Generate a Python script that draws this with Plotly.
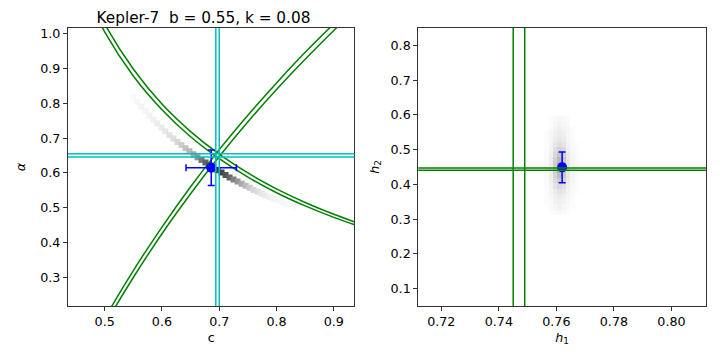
import plotly.graph_objects as go
from plotly.subplots import make_subplots

# --- left panel: (c, alpha) plane ---
curve_c = [0.43, 0.45, 0.50, 0.55, 0.60, 0.65, 0.70, 0.75, 0.80, 0.85, 0.90, 0.95]
# h1 constraint curves (two edges)
h1_lo_alpha = [1.297, 1.207, 1.029, 0.899, 0.798, 0.719, 0.654, 0.600, 0.554, 0.515, 0.481, 0.451]
h1_hi_alpha = [1.264, 1.177, 1.006, 0.879, 0.782, 0.704, 0.641, 0.588, 0.543, 0.505, 0.472, 0.443]
# h2 constraint curves (two edges)
h2_lo_alpha = [-0.036, 0.029, 0.181, 0.319, 0.444, 0.560, 0.667, 0.766, 0.859, 0.947, 1.029, 1.107]
h2_hi_alpha = [-0.056, 0.010, 0.162, 0.299, 0.425, 0.540, 0.647, 0.747, 0.840, 0.927, 1.010, 1.088]

c_lines = [0.694, 0.700]
alpha_lines = [0.646, 0.655]

# posterior density along the band
band_c = [0.550, 0.557, 0.564, 0.571, 0.578, 0.585, 0.592, 0.599, 0.606, 0.613, 0.620, 0.627,
          0.634, 0.641, 0.648, 0.655, 0.662, 0.669, 0.676, 0.683, 0.690, 0.697, 0.704, 0.711,
          0.718, 0.725, 0.732, 0.739, 0.746, 0.753, 0.760, 0.767, 0.774, 0.781, 0.788, 0.795,
          0.802, 0.809, 0.816, 0.823, 0.830]
band_alpha = [0.818, 0.804, 0.791, 0.778, 0.765, 0.753, 0.742, 0.731, 0.720, 0.709, 0.699, 0.689,
              0.680, 0.671, 0.662, 0.654, 0.645, 0.637, 0.630, 0.622, 0.615, 0.608, 0.601, 0.594,
              0.587, 0.581, 0.575, 0.569, 0.563, 0.557, 0.551, 0.546, 0.541, 0.535, 0.530, 0.525,
              0.521, 0.516, 0.511, 0.507, 0.502]
band_w = [0.02, 0.03, 0.04, 0.04, 0.05, 0.06, 0.07, 0.08, 0.09, 0.11, 0.13, 0.16,
          0.19, 0.23, 0.28, 0.34, 0.42, 0.52, 0.62, 0.70, 0.74, 0.76, 0.74, 0.68,
          0.60, 0.50, 0.42, 0.34, 0.27, 0.21, 0.16, 0.13, 0.10, 0.08, 0.06, 0.05,
          0.04, 0.03, 0.03, 0.02, 0.02]

c_val, c_err = 0.686, 0.044
alpha_val, alpha_err = 0.615, 0.051

# --- right panel: (h1, h2) plane ---
h1_lines = [0.745, 0.749]
h2_lines = [0.441, 0.447]
h1_val, h1_err = 0.762, 0.001
h2_val, h2_err = 0.449, 0.044

blob_h1 = [0.7565, 0.7580, 0.7595, 0.7610, 0.7625, 0.7640, 0.7655, 0.7670]
blob_h2 = [0.320, 0.335, 0.350, 0.365, 0.380, 0.395, 0.410, 0.425, 0.440, 0.455,
           0.470, 0.485, 0.500, 0.515, 0.530, 0.545, 0.560, 0.575, 0.590]
blob_z = [
    [0.00, 0.01, 0.02, 0.03, 0.02, 0.01, 0.00, 0.00],
    [0.00, 0.02, 0.03, 0.05, 0.03, 0.02, 0.01, 0.00],
    [0.01, 0.02, 0.05, 0.06, 0.05, 0.03, 0.01, 0.00],
    [0.01, 0.03, 0.06, 0.08, 0.06, 0.04, 0.02, 0.00],
    [0.01, 0.04, 0.08, 0.11, 0.09, 0.05, 0.02, 0.01],
    [0.02, 0.05, 0.11, 0.15, 0.12, 0.06, 0.03, 0.01],
    [0.02, 0.06, 0.14, 0.20, 0.17, 0.08, 0.03, 0.01],
    [0.02, 0.07, 0.17, 0.26, 0.21, 0.09, 0.04, 0.02],
    [0.03, 0.08, 0.20, 0.30, 0.24, 0.10, 0.04, 0.02],
    [0.03, 0.08, 0.20, 0.32, 0.25, 0.10, 0.04, 0.02],
    [0.02, 0.07, 0.18, 0.27, 0.22, 0.09, 0.04, 0.02],
    [0.02, 0.06, 0.15, 0.22, 0.18, 0.08, 0.03, 0.01],
    [0.02, 0.05, 0.12, 0.17, 0.14, 0.06, 0.03, 0.01],
    [0.01, 0.04, 0.09, 0.12, 0.10, 0.05, 0.02, 0.01],
    [0.01, 0.03, 0.07, 0.09, 0.08, 0.04, 0.02, 0.00],
    [0.01, 0.03, 0.06, 0.07, 0.06, 0.03, 0.01, 0.00],
    [0.00, 0.02, 0.04, 0.06, 0.04, 0.03, 0.01, 0.00],
    [0.00, 0.01, 0.03, 0.04, 0.03, 0.02, 0.00, 0.00],
    [0.00, 0.01, 0.02, 0.03, 0.02, 0.01, 0.00, 0.00],
]

GREEN = '#008000'
CYAN = '#00bfbf'
BLUE = '#0000ff'
greys = [[0, '#ffffff'], [1, '#000000']]

fig = make_subplots(rows=1, cols=2, horizontal_spacing=0.1)

# left: density band
fig.add_trace(go.Scatter(
    x=band_c, y=band_alpha, mode='markers',
    marker=dict(symbol='square', size=6, color=band_w, colorscale=greys,
                cmin=0, cmax=1, line=dict(width=0)),
    showlegend=False, hoverinfo='skip'), row=1, col=1)

for a in [h1_lo_alpha, h1_hi_alpha, h2_lo_alpha, h2_hi_alpha]:
    fig.add_trace(go.Scatter(
        x=curve_c, y=a, mode='lines', line=dict(color=GREEN, width=1.5, shape='spline'),
        showlegend=False, hoverinfo='skip'), row=1, col=1)

for v in c_lines:
    fig.add_vline(x=v, line=dict(color=CYAN, width=1.5), row=1, col=1)
for v in alpha_lines:
    fig.add_hline(y=v, line=dict(color=CYAN, width=1.5), row=1, col=1)

fig.add_trace(go.Scatter(
    x=[c_val], y=[alpha_val], mode='markers',
    marker=dict(color=BLUE, size=10),
    error_x=dict(type='data', array=[c_err], color=BLUE, thickness=1.5, width=3.5),
    error_y=dict(type='data', array=[alpha_err], color=BLUE, thickness=1.5, width=3.5),
    showlegend=False), row=1, col=1)

# right: density blob
fig.add_trace(go.Heatmap(
    x=blob_h1, y=blob_h2, z=blob_z, colorscale=greys, zmin=0, zmax=1,
    showscale=False, hoverinfo='skip'), row=1, col=2)

for v in h1_lines:
    fig.add_vline(x=v, line=dict(color=GREEN, width=1.5), row=1, col=2)
for v in h2_lines:
    fig.add_hline(y=v, line=dict(color=GREEN, width=1.5), row=1, col=2)

fig.add_trace(go.Scatter(
    x=[h1_val], y=[h2_val], mode='markers',
    marker=dict(color=BLUE, size=10),
    error_x=dict(type='data', array=[h1_err], color=BLUE, thickness=1.5, width=3.5),
    error_y=dict(type='data', array=[h2_err], color=BLUE, thickness=1.5, width=3.5),
    showlegend=False), row=1, col=2)

axis_style = dict(showgrid=False, zeroline=False, showline=True, mirror=True,
                  linecolor='#333333', linewidth=1, ticks='outside', ticklen=4,
                  tickcolor='#333333', tickfont=dict(size=12.7, color='black'))

fig.update_xaxes(axis_style)
fig.update_yaxes(axis_style)

fig.update_xaxes(domain=[0, 0.449], range=[0.436, 0.936], dtick=0.1, tickformat='.1f',
                 title=dict(text='c', standoff=4, font=dict(size=12.7)), row=1, col=1)
fig.update_yaxes(range=[0.217, 1.017], dtick=0.1, tickformat='.1f',
                 title=dict(text='<i>α</i>', standoff=11, font=dict(size=12.7)), row=1, col=1)
fig.update_xaxes(domain=[0.549, 1], range=[0.712, 0.812], tick0=0.72, dtick=0.02, tickformat='.2f',
                 title=dict(text='<i>h</i><sub>1</sub>', standoff=4, font=dict(size=12.7)), row=1, col=2)
fig.update_yaxes(range=[0.05, 0.85], dtick=0.1, tickformat='.1f',
                 title=dict(text='<i>h</i><sub>2</sub>', standoff=8, font=dict(size=12.7)), row=1, col=2)

# page body has an 8px margin, so the figure is made 8px smaller each way
fig.update_layout(
    width=712, height=352,
    margin=dict(l=50, r=14, t=20, b=54),
    plot_bgcolor='white', paper_bgcolor='white',
    font=dict(family='DejaVu Sans', color='black'),
    title=dict(text='Kepler-7  b = 0.55, k = 0.08', x=50 / 712 + 0.2245 * 648 / 712,
               xanchor='center', xref='container', y=0.974, yref='container', yanchor='middle',
               font=dict(size=15.3, color='black')),
)

fig.write_html("out.html")
